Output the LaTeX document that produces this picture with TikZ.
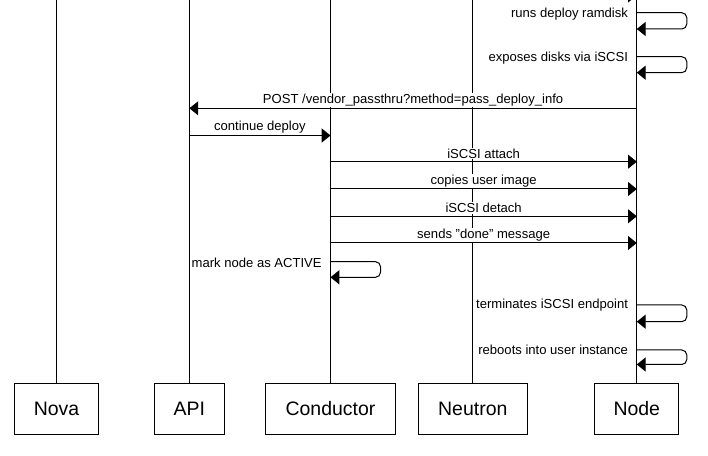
\documentclass[tikz,border=0pt]{standalone}
\usepackage{fontspec}
\setmainfont{Liberation Sans}
\usetikzlibrary{arrows.meta}
\begin{document}
\begin{tikzpicture}[x=0.75pt,y=-0.75pt,line width=0.75pt,
  actor/.style={draw,fill=white,minimum height=38pt,inner sep=0pt,font=\fontsize{14.6}{17}\selectfont},
  msg/.style={-{Triangle[length=6.6pt,width=10.5pt]}},
  lbl/.style={fill=white,inner sep=0.75pt,font=\fontsize{9.8}{12}\selectfont},
  loopline/.style={msg,rounded corners=3.75pt},
  lifeline/.style={draw}]
\useasboundingbox (0,0) rectangle (708,456);
\clip (0,0) rectangle (708,456);
\coordinate (top) at (0,0);
% actors
\node[actor,minimum width=63.3pt] (nova) at (56.5,408.7) {Nova};
\node[actor,minimum width=52.5pt] (api) at (189.4,408.7) {API};
\node[actor,minimum width=97.2pt] (cond) at (330.5,408.7) {Conductor};
\node[actor,minimum width=81.75pt] (neut) at (472.8,408.7) {Neutron};
\node[actor,minimum width=63.2pt] (node) at (636.8,408.7) {Node};
% lifelines
\foreach \a in {nova,api,cond,neut,node}
  \draw[lifeline] (\a.north) -- (\a.north |- top);
% fragment of an earlier message at the top edge
\coordinate (y0) at (0,-4.5);
\draw[msg] (cond.north |- y0) -- (node.north |- y0);
% self loops on Node
\coordinate (l1) at (0,12.7);
\draw[loopline] (node.north |- l1) -- ++(50,0) -- ++(0,16.3) -- ++(-50,0);
\node[lbl,anchor=east] (t1) at ([xshift=-5.5pt,yshift=-1pt]node.north |- l1) {runs deploy ramdisk};
\coordinate (l2) at (0,56.7);
\draw[loopline] (node.north |- l2) -- ++(50,0) -- ++(0,16) -- ++(-50,0);
\node[lbl,anchor=east] (t2) at ([xshift=-5.5pt,yshift=-1pt]node.north |- l2) {exposes disks via iSCSI};
% POST
\coordinate (m1) at (0,108.3);
\draw[msg] (node.north |- m1) -- (api.north |- m1)
  node[lbl,midway,yshift=6.2pt] (t3) {POST /vendor\_passthru?method=pass\_deploy\_info};
% continue deploy
\coordinate (m2) at (0,135.5);
\draw[msg] (api.north |- m2) -- (cond.north |- m2)
  node[lbl,midway,yshift=6.6pt] (t4) {continue deploy};
% conductor -> node
\coordinate (m3) at (0,161.7);
\draw[msg] (cond.north |- m3) -- (node.north |- m3)
  node[lbl,midway,yshift=6.2pt] (t5) {iSCSI attach};
\coordinate (m4) at (0,189);
\draw[msg] (cond.north |- m4) -- (node.north |- m4)
  node[lbl,midway,yshift=6.2pt] (t6) {copies user image};
\coordinate (m5) at (0,216.3);
\draw[msg] (cond.north |- m5) -- (node.north |- m5)
  node[lbl,midway,yshift=6.2pt] (t7) {iSCSI detach};
\coordinate (m6) at (0,243);
\draw[msg] (cond.north |- m6) -- (node.north |- m6)
  node[lbl,midway,yshift=6.2pt] (t8) {sends \symbol{34}done\symbol{34} message};
% conductor self loop
\coordinate (l3) at (0,261.7);
\draw[loopline] (cond.north |- l3) -- ++(50,0) -- ++(0,15.6) -- ++(-50,0);
\node[lbl,anchor=east] (t9) at ([xshift=-5.5pt,yshift=-1pt]cond.north |- l3) {mark node as ACTIVE};
% more node loops
\coordinate (l4) at (0,305);
\draw[loopline] (node.north |- l4) -- ++(50,0) -- ++(0,16.7) -- ++(-50,0);
\node[lbl,anchor=east] (t10) at ([xshift=-5.5pt,yshift=0pt]node.north |- l4) {terminates iSCSI endpoint};
\coordinate (l5) at (0,350);
\draw[loopline] (node.north |- l5) -- ++(50,0) -- ++(0,14.5) -- ++(-50,0);
\node[lbl,anchor=east] (t11) at ([xshift=-5.5pt,yshift=0pt]node.north |- l5) {reboots into user instance};
\end{tikzpicture}
\end{document}
